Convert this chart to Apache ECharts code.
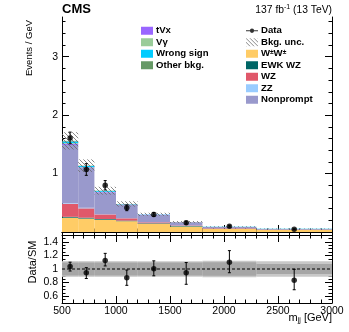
<!DOCTYPE html>
<html>
<head>
<meta charset="utf-8">
<script src="https://cdn.jsdelivr.net/npm/echarts@6/dist/echarts.min.js"></script>
<style>
html, body { margin: 0; padding: 0; background: #fff; }
#chart { width: 349px; height: 332px; }
</style>
</head>
<body>
<div id="chart"></div>
<script>
// bins in m_jj (GeV) and stacked backgrounds, events / GeV
var binEdges  = [500, 650, 800, 1000, 1200, 1500, 1800, 2300, 3000];
var wwSS      = [0.245, 0.23, 0.21, 0.185, 0.14, 0.095, 0.05, 0.034];
var ewkWZ     = [0.015, 0.015, 0.012, 0.01, 0.008, 0.006, 0.005, 0.003];
var wz        = [0.22, 0.16, 0.08, 0.04, 0.02, 0.01, 0.008, 0.006];
var zz        = [0.01, 0.01, 0.005, 0.004, 0.003, 0.002, 0.002, 0.001];
var nonprompt = [1.0, 0.68, 0.37, 0.225, 0.12, 0.05, 0.02, 0.007];
var tvx       = [0.02, 0.01, 0.008, 0.005, 0.003, 0.002, 0.001, 0.001];
var vgamma    = [0.01, 0.005, 0.003, 0.002, 0.001, 0.001, 0.0005, 0.0005];
var wrongSign = [0.03, 0.02, 0.015, 0.006, 0.004, 0.002, 0.002, 0.001];
var otherBkg  = [0.01, 0.005, 0.004, 0.003, 0.002, 0.002, 0.001, 0.001];

// data points
var dataX   = [575, 725, 900, 1100, 1350, 1650, 2050, 2650];
var dataY   = [1.61, 1.07, 0.80, 0.415, 0.30, 0.16, 0.10, 0.046];
var dataErr = [0.10, 0.10, 0.08, 0.05, 0.035, 0.025, 0.015, 0.008];

// ratio panel
var ratio   = [1.035, 0.945, 1.125, 0.87, 1.005, 0.945, 1.10, 0.835];
var ratioHi = [1.10, 1.02, 1.23, 0.985, 1.12, 1.095, 1.27, 0.995];
var ratioLo = [0.97, 0.86, 1.045, 0.76, 0.90, 0.775, 0.945, 0.695];
var uncInner = [0.095, 0.095, 0.095, 0.095, 0.095, 0.095, 0.10, 0.075];
var uncOuter = [0.115, 0.115, 0.115, 0.115, 0.115, 0.115, 0.12, 0.115];

// tick labels
var xTicks     = [500, 1000, 1500, 2000, 2500, 3000];
var mainYTicks = [1, 2, 3];
var ratioTicks = [0.6, 0.8, 1, 1.2, 1.4];

var FONT = 'Liberation Sans, Arial, sans-serif';

var components = [
    { name: 'W±W±',       vals: wwSS,      color: '#ffcc66' },
    { name: 'EWK WZ',     vals: ewkWZ,     color: '#006666' },
    { name: 'WZ',         vals: wz,        color: '#e0586a' },
    { name: 'ZZ',         vals: zz,        color: '#99ccff' },
    { name: 'Nonprompt',  vals: nonprompt, color: '#9999cc' },
    { name: 'tVx',        vals: tvx,       color: '#9966ff' },
    { name: 'Vγ',         vals: vgamma,    color: '#99cc99' },
    { name: 'Wrong sign', vals: wrongSign, color: '#00ccff' },
    { name: 'Other bkg.', vals: otherBkg,  color: '#669966' }
];

var hatchCanvas = (function () {
    var c = document.createElement('canvas');
    c.width = 4; c.height = 4;
    var g = c.getContext('2d');
    g.strokeStyle = '#6a6a6a';
    g.lineWidth = 0.8;
    g.beginPath();
    g.moveTo(-1, -1); g.lineTo(5, 5);
    g.moveTo(3, -1); g.lineTo(5, 1);
    g.moveTo(-1, 3); g.lineTo(1, 5);
    g.stroke();
    return c;
})();
var hatchFill = { image: hatchCanvas, repeat: 'repeat' };

var rectItem = function (params, api) {
    var p0 = api.coord([api.value(0), api.value(3)]);
    var p1 = api.coord([api.value(1), api.value(2)]);
    return {
        type: 'rect',
        shape: { x: p0[0], y: p0[1], width: p1[0] - p0[0], height: p1[1] - p0[1] },
        style: api.style()
    };
};

var errItem = function (params, api) {
    var a = api.coord([api.value(0), api.value(2)]);
    var b = api.coord([api.value(0), api.value(1)]);
    var st = { stroke: '#000', lineWidth: 1 };
    return {
        type: 'group',
        children: [
            { type: 'line', shape: { x1: a[0], y1: a[1], x2: b[0], y2: b[1] }, style: st },
            { type: 'line', shape: { x1: a[0] - 1.5, y1: a[1], x2: a[0] + 1.5, y2: a[1] }, style: st },
            { type: 'line', shape: { x1: b[0] - 1.5, y1: b[1], x2: b[0] + 1.5, y2: b[1] }, style: st }
        ]
    };
};

// stack the backgrounds
var series = [];
var base = binEdges.slice(0, -1).map(function () { return 0; });
components.forEach(function (c) {
    var d = [];
    for (var i = 0; i < c.vals.length; i++) {
        d.push([binEdges[i], binEdges[i + 1], base[i], base[i] + c.vals[i]]);
        base[i] += c.vals[i];
    }
    series.push({
        name: c.name, type: 'custom', xAxisIndex: 0, yAxisIndex: 0,
        renderItem: rectItem, itemStyle: { color: c.color }, data: d, clip: true
    });
});
var total = base;

var uncData = [], bandOut = [], bandIn = [];
for (var i = 0; i < total.length; i++) {
    uncData.push([binEdges[i], binEdges[i + 1], total[i] * (1 - uncInner[i]), total[i] * (1 + uncInner[i])]);
    bandOut.push([binEdges[i], binEdges[i + 1], 1 - uncOuter[i], 1 + uncOuter[i]]);
    bandIn.push([binEdges[i], binEdges[i + 1], 1 - uncInner[i], 1 + uncInner[i]]);
}

series.push({
    name: 'Bkg. unc.', type: 'custom', xAxisIndex: 0, yAxisIndex: 0,
    renderItem: rectItem, itemStyle: { color: hatchFill }, data: uncData, clip: true
});
series.push({
    name: 'DataErr', type: 'custom', xAxisIndex: 0, yAxisIndex: 0, renderItem: errItem,
    data: dataX.map(function (x, i) { return [x, dataY[i] - dataErr[i], dataY[i] + dataErr[i]]; })
});
series.push({
    name: 'Data', type: 'scatter', xAxisIndex: 0, yAxisIndex: 0,
    symbolSize: 5.5, itemStyle: { color: '#000' },
    data: dataX.map(function (x, i) { return [x, dataY[i]]; })
});

// ratio panel
series.push({
    name: 'bandOuter', type: 'custom', xAxisIndex: 2, yAxisIndex: 4,
    renderItem: rectItem, itemStyle: { color: '#c8c8c8' }, data: bandOut, clip: true
});
series.push({
    name: 'bandInner', type: 'custom', xAxisIndex: 2, yAxisIndex: 4,
    renderItem: rectItem, itemStyle: { color: '#a6a6a6' }, data: bandIn, clip: true
});
series.push({
    name: 'unity', type: 'line', xAxisIndex: 2, yAxisIndex: 4, symbol: 'none',
    lineStyle: { color: '#000', width: 1, type: [3, 2] },
    data: [[500, 1], [3000, 1]]
});
series.push({
    name: 'ratioErr', type: 'custom', xAxisIndex: 2, yAxisIndex: 4, renderItem: errItem,
    data: dataX.map(function (x, i) { return [x, ratioLo[i], ratioHi[i]]; })
});
series.push({
    name: 'ratio', type: 'scatter', xAxisIndex: 2, yAxisIndex: 4,
    symbolSize: 5.5, itemStyle: { color: '#000' },
    data: dataX.map(function (x, i) { return [x, ratio[i]]; })
});

var minorVals = function (lo, hi, step, majors) {
    var out = [];
    for (var v = lo; v <= hi + 1e-9; v += step) {
        var r = Math.round(v * 1000) / 1000;
        if (majors.indexOf(r) < 0) out.push(r);
    }
    return out;
};

var line = { show: true, lineStyle: { color: '#000', width: 1 } };
var xAx = function (grid, pos, labels) {
    return {
        type: 'value', gridIndex: grid, position: pos, min: 500, max: 3000, interval: 500,
        axisLine: line, splitLine: { show: false },
        axisTick: { show: true, inside: true, length: 7, lineStyle: { color: '#000' } },
        minorTick: { show: true, splitNumber: 5, length: 3.5, lineStyle: { color: '#000' } },
        axisLabel: {
            show: labels, customValues: xTicks, color: '#000', fontFamily: FONT, fontSize: 10.5, margin: 3,
            formatter: function (v) { return String(v); }
        }
    };
};
var yAx = function (grid, pos, min, max, ticks, len, labels, showLine) {
    return {
        type: 'value', gridIndex: grid, position: pos, min: min, max: max,
        axisLine: showLine ? line : { show: false }, splitLine: { show: false },
        axisTick: { show: true, inside: true, length: len, customValues: ticks, lineStyle: { color: '#000' } },
        axisLabel: {
            show: labels, customValues: ticks, color: '#000', fontFamily: FONT, fontSize: 10.5, margin: 4,
            formatter: function (v) { return String(v); }
        }
    };
};

var mainMinor = minorVals(0.2, 3.6, 0.2, mainYTicks);
var ratioMinor = minorVals(0.5, 1.5, 0.05, ratioTicks);

var chart = echarts.init(document.getElementById('chart'), null, { renderer: 'canvas' });

var option = {
    animation: false,
    backgroundColor: '#fff',
    grid: [
        { left: 62, top: 17, width: 270, height: 215 },
        { left: 62, top: 235, width: 270, height: 68 }
    ],
    xAxis: [
        xAx(0, 'bottom', false), xAx(0, 'top', false),
        xAx(1, 'bottom', true), xAx(1, 'top', false)
    ],
    yAxis: [
        yAx(0, 'left', 0, 3.68, mainYTicks, 7, true, true),
        yAx(0, 'left', 0, 3.68, mainMinor, 3.5, false, false),
        yAx(0, 'right', 0, 3.68, mainYTicks, 7, false, true),
        yAx(0, 'right', 0, 3.68, mainMinor, 3.5, false, false),
        yAx(1, 'left', 0.5, 1.5, ratioTicks, 7, true, true),
        yAx(1, 'left', 0.5, 1.5, ratioMinor, 3.5, false, false),
        yAx(1, 'right', 0.5, 1.5, ratioTicks, 7, false, true),
        yAx(1, 'right', 0.5, 1.5, ratioMinor, 3.5, false, false)
    ],
    legend: [
        {
            left: 141, top: 25, orient: 'vertical', icon: 'rect', selectedMode: false,
            itemWidth: 12, itemHeight: 8, itemGap: 0, padding: 0,
            textStyle: { fontFamily: FONT, fontWeight: 'bold', fontSize: 9.6, lineHeight: 11.5, color: '#000', padding: [0, 0, 0, -2] },
            data: ['tVx', 'Vγ', 'Wrong sign', 'Other bkg.']
        },
        {
            left: 246, top: 25, orient: 'vertical', icon: 'rect', selectedMode: false,
            itemWidth: 12, itemHeight: 8, itemGap: 0, padding: 0,
            textStyle: {
                fontFamily: FONT, fontWeight: 'bold', fontSize: 9.6, lineHeight: 11.5, color: '#000', padding: [0, 0, 0, -2],
                rich: { s: { fontFamily: FONT, fontWeight: 'bold', fontSize: 6.5, lineHeight: 11.5, padding: [0, 0, 4, 0] } }
            },
            formatter: function (name) {
                return name === 'W±W±' ? 'W{s|±}W{s|±}' : name;
            },
            data: [
                { name: 'Data', icon: 'path://M0,3.4H14V4.6H0Z M4.5,4A2.5,2.5 0 1 1 9.5,4A2.5,2.5 0 1 1 4.5,4Z' },
                { name: 'Bkg. unc.', itemStyle: { color: hatchFill } },
                'W±W±', 'EWK WZ', 'WZ', 'ZZ', 'Nonprompt'
            ]
        }
    ],
    graphic: [
        { type: 'text', left: 62, top: 3, style: { text: 'CMS', font: 'bold 13px ' + FONT, fill: '#000' } },
        {
            type: 'text', right: 17, top: 4,
            style: {
                text: '137 fb{s|-1} (13 TeV)', font: '10.3px ' + FONT, fill: '#000',
                rich: { s: { fontSize: 7, fontFamily: FONT, padding: [0, 0, 5, 0] } }
            }
        },
        {
            type: 'text', x: 24, y: 20, rotation: Math.PI / 2,
            style: { text: 'Events / GeV', font: '9.5px ' + FONT, fill: '#000', align: 'right', verticalAlign: 'top' }
        },
        {
            type: 'text', x: 27, y: 262, rotation: Math.PI / 2,
            style: { text: 'Data/SM', font: '11px ' + FONT, fill: '#000', align: 'center', verticalAlign: 'top' }
        },
        {
            type: 'text', right: 17, top: 312,
            style: {
                text: 'm{s|jj} [GeV]', font: '11px ' + FONT, fill: '#000',
                rich: { s: { fontSize: 7, fontFamily: FONT, padding: [6, 0, 0, 0] } }
            }
        }
    ],
    series: series
};

chart.setOption(option);
</script>
</body>
</html>
